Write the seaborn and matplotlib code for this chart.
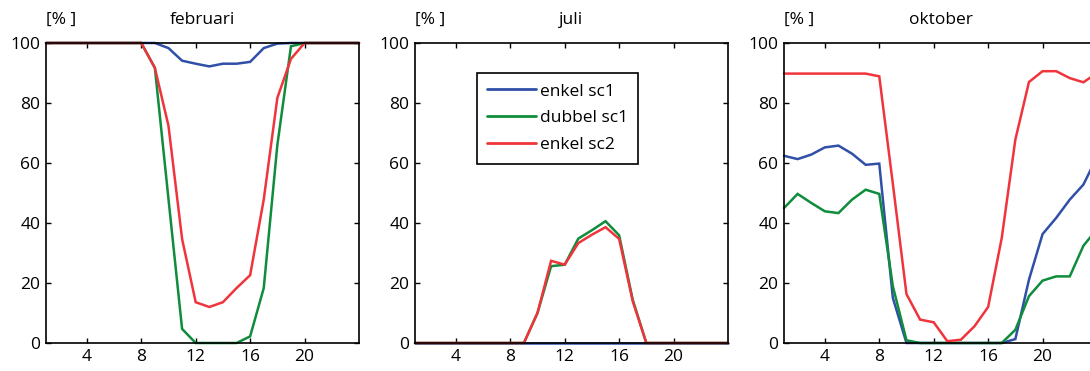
import numpy as np
import pandas as pd
import matplotlib
matplotlib.use("Agg")
import matplotlib.pyplot as plt
import seaborn as sns

hours = list(range(1, 25))
series_names = ["enkel sc1", "dubbel sc1", "enkel sc2"]
months = ["februari", "juli", "oktober"]

feb_enkel_sc1 = [100, 100, 100, 100, 100, 100, 100, 100, 100, 98.3, 94.1, 93.1,
                 92.2, 93.1, 93.1, 93.7, 98.3, 99.8, 100, 100, 100, 100, 100, 100]
feb_dubbel_sc1 = [100, 100, 100, 100, 100, 100, 100, 100, 91.7, 48, 4.7, 0,
                  0, 0, 0, 2.2, 18.3, 66, 98.9, 100, 100, 100, 100, 100]
feb_enkel_sc2 = [100, 100, 100, 100, 100, 100, 100, 100, 91.7, 72.4, 34.7, 13.6,
                 12, 13.6, 18.3, 22.6, 47.8, 81.7, 94.7, 100, 100, 100, 100, 100]

jul_enkel_sc1 = [0] * 24
jul_dubbel_sc1 = [0, 0, 0, 0, 0, 0, 0, 0, 0, 10, 25.6, 26.1,
                  34.8, 37.6, 40.6, 35.9, 14.4, 0, 0, 0, 0, 0, 0, 0]
jul_enkel_sc2 = [0, 0, 0, 0, 0, 0, 0, 0, 0, 10, 27.4, 26.1,
                 33.3, 36.1, 38.6, 34.7, 13.9, 0, 0, 0, 0, 0, 0, 0]

okt_enkel_sc1 = [62.4, 61.3, 62.8, 65.2, 65.8, 63.1, 59.4, 59.8, 15, 0, 0, 0,
                 0, 0, 0, 0, 0, 1.3, 21.1, 36.3, 41.7, 47.8, 52.8, 62]
okt_dubbel_sc1 = [45, 49.7, 46.7, 43.9, 43.3, 47.8, 51.1, 49.7, 18.9, 0.9, 0, 0,
                  0, 0, 0, 0, 0, 4.4, 15.6, 20.8, 22.2, 22.2, 32.4, 38]
okt_enkel_sc2 = [89.8, 89.8, 89.8, 89.8, 89.8, 89.8, 89.8, 88.9, 53, 16.3, 7.8, 6.9,
                 0.6, 1.1, 5.6, 12, 35, 67.8, 87, 90.6, 90.6, 88.3, 86.9, 90]

data = {
    "februari": [feb_enkel_sc1, feb_dubbel_sc1, feb_enkel_sc2],
    "juli": [jul_enkel_sc1, jul_dubbel_sc1, jul_enkel_sc2],
    "oktober": [okt_enkel_sc1, okt_dubbel_sc1, okt_enkel_sc2],
}
xticks = [4, 8, 12, 16, 20]
yticks = [0, 20, 40, 60, 80, 100]
colors = ["#3050a8", "#0f8c3c", "#f0343c"]

sns.set_style("ticks")
plt.rcParams["font.family"] = ["Open Sans", "DejaVu Sans"]
plt.rcParams["font.size"] = 12.5
plt.rcParams["text.color"] = "black"

fig = plt.figure(figsize=(10.9, 3.71), dpi=100)
W, H = 1090, 371
lefts = [46, 415, 784]
aw, ah = 313, 300
bottom = H - 343
fs = 12.5

for i, m in enumerate(months):
    ax = fig.add_axes([lefts[i] / W, bottom / H, aw / W, ah / H])
    rows = []
    for name, vals in zip(series_names, data[m]):
        for h, v in zip(hours, vals):
            rows.append({"uur": h, "waarde": v, "serie": name})
    df = pd.DataFrame(rows)
    sns.lineplot(data=df, x="uur", y="waarde", hue="serie", hue_order=series_names,
                 palette=colors, linewidth=1.8, ax=ax, legend=(i == 1))
    for ln in ax.lines:
        ln.set_clip_on(False)
        ln.set_solid_joinstyle("miter")
    ax.set_xlim(1, 24)
    ax.set_ylim(0, 100)
    ax.set_xticks(xticks)
    ax.set_yticks(yticks)
    ax.set_xlabel("")
    ax.set_ylabel("")
    for s in ax.spines.values():
        s.set_visible(True)
        s.set_linewidth(1.2)
        s.set_color("black")
    ax.tick_params(direction="in", length=3.5, width=1, top=True, right=True,
                   labelsize=fs, colors="black")
    ax.tick_params(axis="y", pad=4)
    ax.tick_params(axis="x", pad=4)
    ax.text(0.5, 1 + 23 / ah, m, transform=ax.transAxes, ha="center", va="center",
            fontsize=fs, color="black")
    ax.text(0.048, 1 + 23 / ah, "[% ]", transform=ax.transAxes, ha="center", va="center",
            fontsize=fs, color="black")
    if i == 1:
        leg = ax.get_legend()
        handles = leg.legend_handles
        ax.legend(handles, series_names, loc="upper left",
                  bbox_to_anchor=((477 - 415) / aw, (343 - 73) / ah),
                  borderaxespad=0, frameon=True, fancybox=False, fontsize=fs,
                  handlelength=2.8, handletextpad=0.2, labelspacing=0.62,
                  borderpad=0.6, edgecolor="black")
        lg = ax.get_legend()
        lg.get_frame().set_linewidth(1.2)
        lg.get_frame().set_alpha(1)
        for t in lg.get_texts():
            t.set_color("black")
        for lh in lg.get_lines():
            lh.set_linewidth(2)

fig.savefig("out.png", dpi=100)
